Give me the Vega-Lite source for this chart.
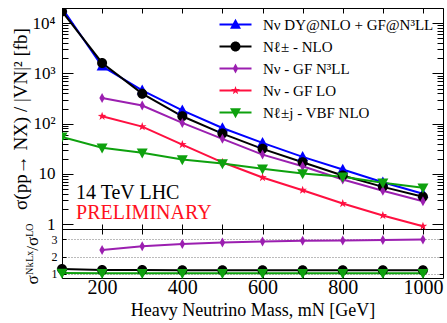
{
  "$schema": "https://vega.github.io/schema/vega-lite/v6.json",
  "width": 381,
  "height": 270,
  "autosize": "none",
  "padding": {"left": 62, "top": 8, "right": 4, "bottom": 45},
  "background": "white",
  "datasets": {
    "top": [
      {"m": 100, "series": "Nν DY@NLO + GF@N³LL", "xs": 20000},
      {"m": 200, "series": "Nν DY@NLO + GF@N³LL", "xs": 1380},
      {"m": 300, "series": "Nν DY@NLO + GF@N³LL", "xs": 460},
      {"m": 400, "series": "Nν DY@NLO + GF@N³LL", "xs": 184},
      {"m": 500, "series": "Nν DY@NLO + GF@N³LL", "xs": 82},
      {"m": 600, "series": "Nν DY@NLO + GF@N³LL", "xs": 41.4},
      {"m": 700, "series": "Nν DY@NLO + GF@N³LL", "xs": 21.8},
      {"m": 800, "series": "Nν DY@NLO + GF@N³LL", "xs": 12.2},
      {"m": 900, "series": "Nν DY@NLO + GF@N³LL", "xs": 6.82},
      {"m": 1000, "series": "Nν DY@NLO + GF@N³LL", "xs": 4.01},
      {"m": 100, "series": "Nℓ± - NLO", "xs": 17100},
      {"m": 200, "series": "Nℓ± - NLO", "xs": 1610},
      {"m": 300, "series": "Nℓ± - NLO", "xs": 395},
      {"m": 400, "series": "Nℓ± - NLO", "xs": 140},
      {"m": 500, "series": "Nℓ± - NLO", "xs": 63.4},
      {"m": 600, "series": "Nℓ± - NLO", "xs": 31.5},
      {"m": 700, "series": "Nℓ± - NLO", "xs": 17.0},
      {"m": 800, "series": "Nℓ± - NLO", "xs": 9.27},
      {"m": 900, "series": "Nℓ± - NLO", "xs": 5.52},
      {"m": 1000, "series": "Nℓ± - NLO", "xs": 3.5},
      {"m": 200, "series": "Nν - GF N³LL", "xs": 325},
      {"m": 300, "series": "Nν - GF N³LL", "xs": 229},
      {"m": 400, "series": "Nν - GF N³LL", "xs": 103.5},
      {"m": 500, "series": "Nν - GF N³LL", "xs": 49.8},
      {"m": 600, "series": "Nν - GF N³LL", "xs": 24.2},
      {"m": 700, "series": "Nν - GF N³LL", "xs": 14.2},
      {"m": 800, "series": "Nν - GF N³LL", "xs": 7.71},
      {"m": 900, "series": "Nν - GF N³LL", "xs": 4.6},
      {"m": 1000, "series": "Nν - GF N³LL", "xs": 2.86},
      {"m": 200, "series": "Nν - GF LO", "xs": 140},
      {"m": 300, "series": "Nν - GF LO", "xs": 87.3},
      {"m": 400, "series": "Nν - GF LO", "xs": 38.3},
      {"m": 500, "series": "Nν - GF LO", "xs": 17.0},
      {"m": 600, "series": "Nν - GF LO", "xs": 8.45},
      {"m": 700, "series": "Nν - GF LO", "xs": 4.73},
      {"m": 800, "series": "Nν - GF LO", "xs": 2.57},
      {"m": 900, "series": "Nν - GF LO", "xs": 1.49},
      {"m": 1000, "series": "Nν - GF LO", "xs": 0.91},
      {"m": 100, "series": "Nℓ±j - VBF NLO", "xs": 54.5},
      {"m": 200, "series": "Nℓ±j - VBF NLO", "xs": 33},
      {"m": 300, "series": "Nℓ±j - VBF NLO", "xs": 26.2},
      {"m": 400, "series": "Nℓ±j - VBF NLO", "xs": 19.3},
      {"m": 500, "series": "Nℓ±j - VBF NLO", "xs": 16.1},
      {"m": 600, "series": "Nℓ±j - VBF NLO", "xs": 12.6},
      {"m": 700, "series": "Nℓ±j - VBF NLO", "xs": 10.2},
      {"m": 800, "series": "Nℓ±j - VBF NLO", "xs": 8.73},
      {"m": 900, "series": "Nℓ±j - VBF NLO", "xs": 6.64},
      {"m": 1000, "series": "Nℓ±j - VBF NLO", "xs": 5.28}
    ],
    "ratio": [
      {"m": 200, "series": "Nν - GF N³LL", "r": 2.38},
      {"m": 300, "series": "Nν - GF N³LL", "r": 2.6},
      {"m": 400, "series": "Nν - GF N³LL", "r": 2.73},
      {"m": 500, "series": "Nν - GF N³LL", "r": 2.82},
      {"m": 600, "series": "Nν - GF N³LL", "r": 2.88},
      {"m": 700, "series": "Nν - GF N³LL", "r": 2.91},
      {"m": 800, "series": "Nν - GF N³LL", "r": 2.93},
      {"m": 900, "series": "Nν - GF N³LL", "r": 2.96},
      {"m": 1000, "series": "Nν - GF N³LL", "r": 2.99},
      {"m": 100, "series": "Nℓ± - NLO", "r": 1.28},
      {"m": 200, "series": "Nℓ± - NLO", "r": 1.22},
      {"m": 300, "series": "Nℓ± - NLO", "r": 1.21},
      {"m": 400, "series": "Nℓ± - NLO", "r": 1.2},
      {"m": 500, "series": "Nℓ± - NLO", "r": 1.2},
      {"m": 600, "series": "Nℓ± - NLO", "r": 1.2},
      {"m": 700, "series": "Nℓ± - NLO", "r": 1.2},
      {"m": 800, "series": "Nℓ± - NLO", "r": 1.2},
      {"m": 900, "series": "Nℓ± - NLO", "r": 1.2},
      {"m": 1000, "series": "Nℓ± - NLO", "r": 1.2},
      {"m": 100, "series": "Nℓ±j - VBF NLO", "r": 1.04},
      {"m": 200, "series": "Nℓ±j - VBF NLO", "r": 1.03},
      {"m": 300, "series": "Nℓ±j - VBF NLO", "r": 1.03},
      {"m": 400, "series": "Nℓ±j - VBF NLO", "r": 1.03},
      {"m": 500, "series": "Nℓ±j - VBF NLO", "r": 1.03},
      {"m": 600, "series": "Nℓ±j - VBF NLO", "r": 1.03},
      {"m": 700, "series": "Nℓ±j - VBF NLO", "r": 1.03},
      {"m": 800, "series": "Nℓ±j - VBF NLO", "r": 1.03},
      {"m": 900, "series": "Nℓ±j - VBF NLO", "r": 1.03},
      {"m": 1000, "series": "Nℓ±j - VBF NLO", "r": 1.03}
    ],
    "notes": [
      {"m": 135, "v": 3.16, "label": "14 TeV LHC"},
      {"m": 135, "v": 1.25, "label": "PRELIMINARY"}
    ]
  },
  "layer": [
    {
      "data": {"name": "top"},
      "mark": {"type": "line", "strokeWidth": 2, "clip": true},
      "encoding": {
        "x": {"field": "m", "type": "quantitative", "scale": {"domain": [100, 1050], "nice": false, "zero": false},
          "axis": {"orient": "top", "labels": false, "title": null, "tickSize": -5, "values": [100, 200, 300, 400, 500, 600, 700, 800, 900, 1000], "grid": false}},
        "y": {"field": "xs", "type": "quantitative", "scale": {"type": "log", "domain": [0.8, 20000], "range": [221, 0], "nice": false},
          "axis": {"orient": "left", "grid": false, "labelOverlap": false, "labelFlush": false,
            "values": [1, 2, 3, 4, 5, 6, 7, 8, 9, 10, 20, 30, 40, 50, 60, 70, 80, 90, 100, 200, 300, 400, 500, 600, 700, 800, 900, 1000, 2000, 3000, 4000, 5000, 6000, 7000, 8000, 9000, 10000, 20000],
            "labelExpr": "datum.value == 1 ? '1' : datum.value == 10 ? '10' : datum.value == 100 ? '10²' : datum.value == 1000 ? '10³' : datum.value == 10000 ? '10⁴' : ''",
            "tickSize": {"condition": {"test": "datum.value == 1 || datum.value == 10 || datum.value == 100 || datum.value == 1000 || datum.value == 10000", "value": -11}, "value": -6},
            "labelPadding": 18, "labelFontSize": 17,
            "title": "σ(pp→ NX) / |VN|² [fb]", "titleFontSize": 19, "titlePadding": 2}},
        "detail": {"field": "series", "type": "nominal"},
        "color": {"condition": [
          {"test": "datum.series == 'Nν DY@NLO + GF@N³LL'", "value": "#0000ff"},
          {"test": "datum.series == 'Nν - GF N³LL'", "value": "#9b1fb0"},
          {"test": "datum.series == 'Nν - GF LO'", "value": "#ff1040"},
          {"test": "datum.series == 'Nℓ±j - VBF NLO'", "value": "#0ea10e"}
        ], "value": "#000000"}
      }
    },
    {
      "data": {"name": "top"},
      "mark": {"type": "point", "filled": true, "opacity": 1, "size": 100, "strokeWidth": 0, "clip": true},
      "encoding": {
        "x": {"field": "m", "type": "quantitative", "scale": {"domain": [100, 1050], "nice": false, "zero": false},
          "axis": {"orient": "bottom", "offset": -49, "labels": false, "title": null, "tickSize": -5, "values": [100, 200, 300, 400, 500, 600, 700, 800, 900, 1000], "grid": false}},
        "y": {"field": "xs", "type": "quantitative", "scale": {"type": "log", "domain": [0.8, 20000], "range": [221, 0], "nice": false},
          "axis": {"orient": "right", "grid": false, "labels": false, "title": null,
            "values": [1, 2, 3, 4, 5, 6, 7, 8, 9, 10, 20, 30, 40, 50, 60, 70, 80, 90, 100, 200, 300, 400, 500, 600, 700, 800, 900, 1000, 2000, 3000, 4000, 5000, 6000, 7000, 8000, 9000, 10000, 20000],
            "tickSize": {"condition": {"test": "datum.value == 1 || datum.value == 10 || datum.value == 100 || datum.value == 1000 || datum.value == 10000", "value": -11}, "value": -6}}},
        "color": {"condition": [
          {"test": "datum.series == 'Nν DY@NLO + GF@N³LL'", "value": "#0000ff"},
          {"test": "datum.series == 'Nν - GF N³LL'", "value": "#9b1fb0"},
          {"test": "datum.series == 'Nν - GF LO'", "value": "#ff1040"},
          {"test": "datum.series == 'Nℓ±j - VBF NLO'", "value": "#0ea10e"}
        ], "value": "#000000"},
        "shape": {"condition": [
          {"test": "datum.series == 'Nν DY@NLO + GF@N³LL'", "value": "M0,-1.15L1.1,0.85L-1.1,0.85Z"},
          {"test": "datum.series == 'Nν - GF N³LL'", "value": "M0,-1L0.55,0L0,1L-0.55,0Z"},
          {"test": "datum.series == 'Nν - GF LO'", "value": "M0,-0.9L0.21,-0.29L0.86,-0.28L0.34,0.11L0.53,0.73L0,0.36L-0.53,0.73L-0.34,0.11L-0.86,-0.28L-0.21,-0.29Z"},
          {"test": "datum.series == 'Nℓ±j - VBF NLO'", "value": "M-1.1,-0.85L1.1,-0.85L0,1.15Z"}
        ], "value": "M-1,0A1,1,0,1,1,1,0A1,1,0,1,1,-1,0Z"}
      }
    },
    {
      "data": {"name": "top"},
      "transform": [{"filter": "datum.m > 5000"}],
      "mark": {"type": "point", "filled": true, "size": 100},
      "encoding": {
        "x": {"field": "m", "type": "quantitative", "scale": {"domain": [100, 1050], "nice": false, "zero": false}, "axis": null},
        "y": {"field": "xs", "type": "quantitative", "scale": {"type": "log", "domain": [0.8, 20000], "range": [221, 0], "nice": false}, "axis": null},
        "color": {"field": "series", "type": "nominal",
          "scale": {"domain": ["Nν DY@NLO + GF@N³LL", "Nℓ± - NLO", "Nν - GF N³LL", "Nν - GF LO", "Nℓ±j - VBF NLO"],
            "range": ["#0000ff", "#000000", "#9b1fb0", "#ff1040", "#0ea10e"]},
          "legend": {"orient": "none", "legendX": 166, "legendY": 9, "padding": 0, "title": null, "labelOffset": 20, "rowPadding": 6,
            "labelFont": "Liberation Serif", "labelFontSize": 15, "labelColor": "black", "labelLimit": 400,
            "symbolSize": 100, "symbolStrokeWidth": 0, "symbolOpacity": 1}},
        "shape": {"field": "series", "type": "nominal",
          "scale": {"domain": ["Nν DY@NLO + GF@N³LL", "Nℓ± - NLO", "Nν - GF N³LL", "Nν - GF LO", "Nℓ±j - VBF NLO"],
            "range": [
              "M-3.2,-0.2L3.2,-0.2L3.2,0.2L-3.2,0.2Z M0,-1.15L1.1,0.85L-1.1,0.85Z",
              "M-3.2,-0.2L3.2,-0.2L3.2,0.2L-3.2,0.2Z M-1,0A1,1,0,1,1,1,0A1,1,0,1,1,-1,0Z",
              "M-3.2,-0.2L3.2,-0.2L3.2,0.2L-3.2,0.2Z M0,-1L0.55,0L0,1L-0.55,0Z",
              "M-3.2,-0.2L3.2,-0.2L3.2,0.2L-3.2,0.2Z M0,-0.9L0.21,-0.29L0.86,-0.28L0.34,0.11L0.53,0.73L0,0.36L-0.53,0.73L-0.34,0.11L-0.86,-0.28L-0.21,-0.29Z",
              "M-3.2,-0.2L3.2,-0.2L3.2,0.2L-3.2,0.2Z M-1.1,-0.85L1.1,-0.85L0,1.15Z"
            ]},
          "legend": {"orient": "none", "legendX": 166, "legendY": 9, "padding": 0, "title": null, "labelOffset": 20, "rowPadding": 6,
            "labelFont": "Liberation Serif", "labelFontSize": 15, "labelColor": "black", "labelLimit": 400,
            "symbolSize": 100, "symbolStrokeWidth": 0, "symbolOpacity": 1}}
      }
    },
    {
      "data": {"name": "notes"},
      "mark": {"type": "text", "align": "left", "baseline": "alphabetic", "font": "Liberation Serif", "fontSize": 20},
      "encoding": {
        "x": {"field": "m", "type": "quantitative", "scale": {"domain": [100, 1050], "nice": false, "zero": false}, "axis": null},
        "y": {"field": "v", "type": "quantitative", "scale": {"type": "log", "domain": [0.8, 20000], "range": [221, 0], "nice": false}, "axis": null},
        "text": {"field": "label"},
        "color": {"condition": {"test": "datum.label == 'PRELIMINARY'", "value": "#ff1020"}, "value": "#000000"}
      }
    },
    {
      "data": {"name": "ratio"},
      "mark": {"type": "line", "strokeWidth": 2},
      "encoding": {
        "x": {"field": "m", "type": "quantitative", "scale": {"domain": [100, 1050], "nice": false, "zero": false},
          "axis": {"orient": "bottom", "title": "Heavy Neutrino Mass, mN [GeV]", "titleFontSize": 18, "titlePadding": 4,
            "tickSize": -5, "labelPadding": 4, "labelFontSize": 20, "labelFlush": false, "labelOverlap": false, "format": "d",
            "values": [100, 200, 300, 400, 500, 600, 700, 800, 900, 1000],
            "labelExpr": "datum.value % 200 == 0 ? datum.label : ''", "grid": false}},
        "y": {"field": "r", "type": "quantitative", "scale": {"domain": [0.75, 3.6], "range": [270, 221], "nice": false, "zero": false},
          "axis": {"orient": "left", "values": [1, 2, 3], "tickSize": -4, "labelPadding": 9, "labelFontSize": 12,
            "grid": true, "gridDash": [1, 2], "gridColor": "#777777", "gridWidth": 1,
            "title": "σᴺᵏᴸˣ/σᴸᴼ", "titleFontSize": 17, "titlePadding": 10}},
        "detail": {"field": "series", "type": "nominal"},
        "color": {"condition": [
          {"test": "datum.series == 'Nν - GF N³LL'", "value": "#9b1fb0"},
          {"test": "datum.series == 'Nℓ±j - VBF NLO'", "value": "#0ea10e"}
        ], "value": "#000000"}
      }
    },
    {
      "data": {"name": "ratio"},
      "mark": {"type": "point", "filled": true, "opacity": 1, "size": 100, "strokeWidth": 0},
      "encoding": {
        "x": {"field": "m", "type": "quantitative", "scale": {"domain": [100, 1050], "nice": false, "zero": false},
          "axis": {"orient": "top", "offset": -221, "labels": false, "title": null, "tickSize": -5, "values": [100, 200, 300, 400, 500, 600, 700, 800, 900, 1000], "grid": false}},
        "y": {"field": "r", "type": "quantitative", "scale": {"domain": [0.75, 3.6], "range": [270, 221], "nice": false, "zero": false},
          "axis": {"orient": "right", "values": [1, 2, 3], "tickSize": -4, "labels": false, "title": null, "grid": false}},
        "color": {"condition": [
          {"test": "datum.series == 'Nν - GF N³LL'", "value": "#9b1fb0"},
          {"test": "datum.series == 'Nℓ±j - VBF NLO'", "value": "#0ea10e"}
        ], "value": "#000000"},
        "shape": {"condition": [
          {"test": "datum.series == 'Nν - GF N³LL'", "value": "M0,-1L0.55,0L0,1L-0.55,0Z"},
          {"test": "datum.series == 'Nℓ±j - VBF NLO'", "value": "M-1.1,-0.85L1.1,-0.85L0,1.15Z"}
        ], "value": "M-1,0A1,1,0,1,1,1,0A1,1,0,1,1,-1,0Z"}
      }
    }
  ],
  "resolve": {
    "scale": {"y": "independent"},
    "axis": {"x": "independent", "y": "independent"}
  },
  "config": {
    "view": {"stroke": null},
    "axis": {"domainColor": "black", "domainWidth": 1, "tickColor": "black", "tickWidth": 1, "labelColor": "black", "titleColor": "black",
      "labelFont": "Liberation Serif", "titleFont": "Liberation Serif", "titleFontWeight": "normal"}
  }
}
